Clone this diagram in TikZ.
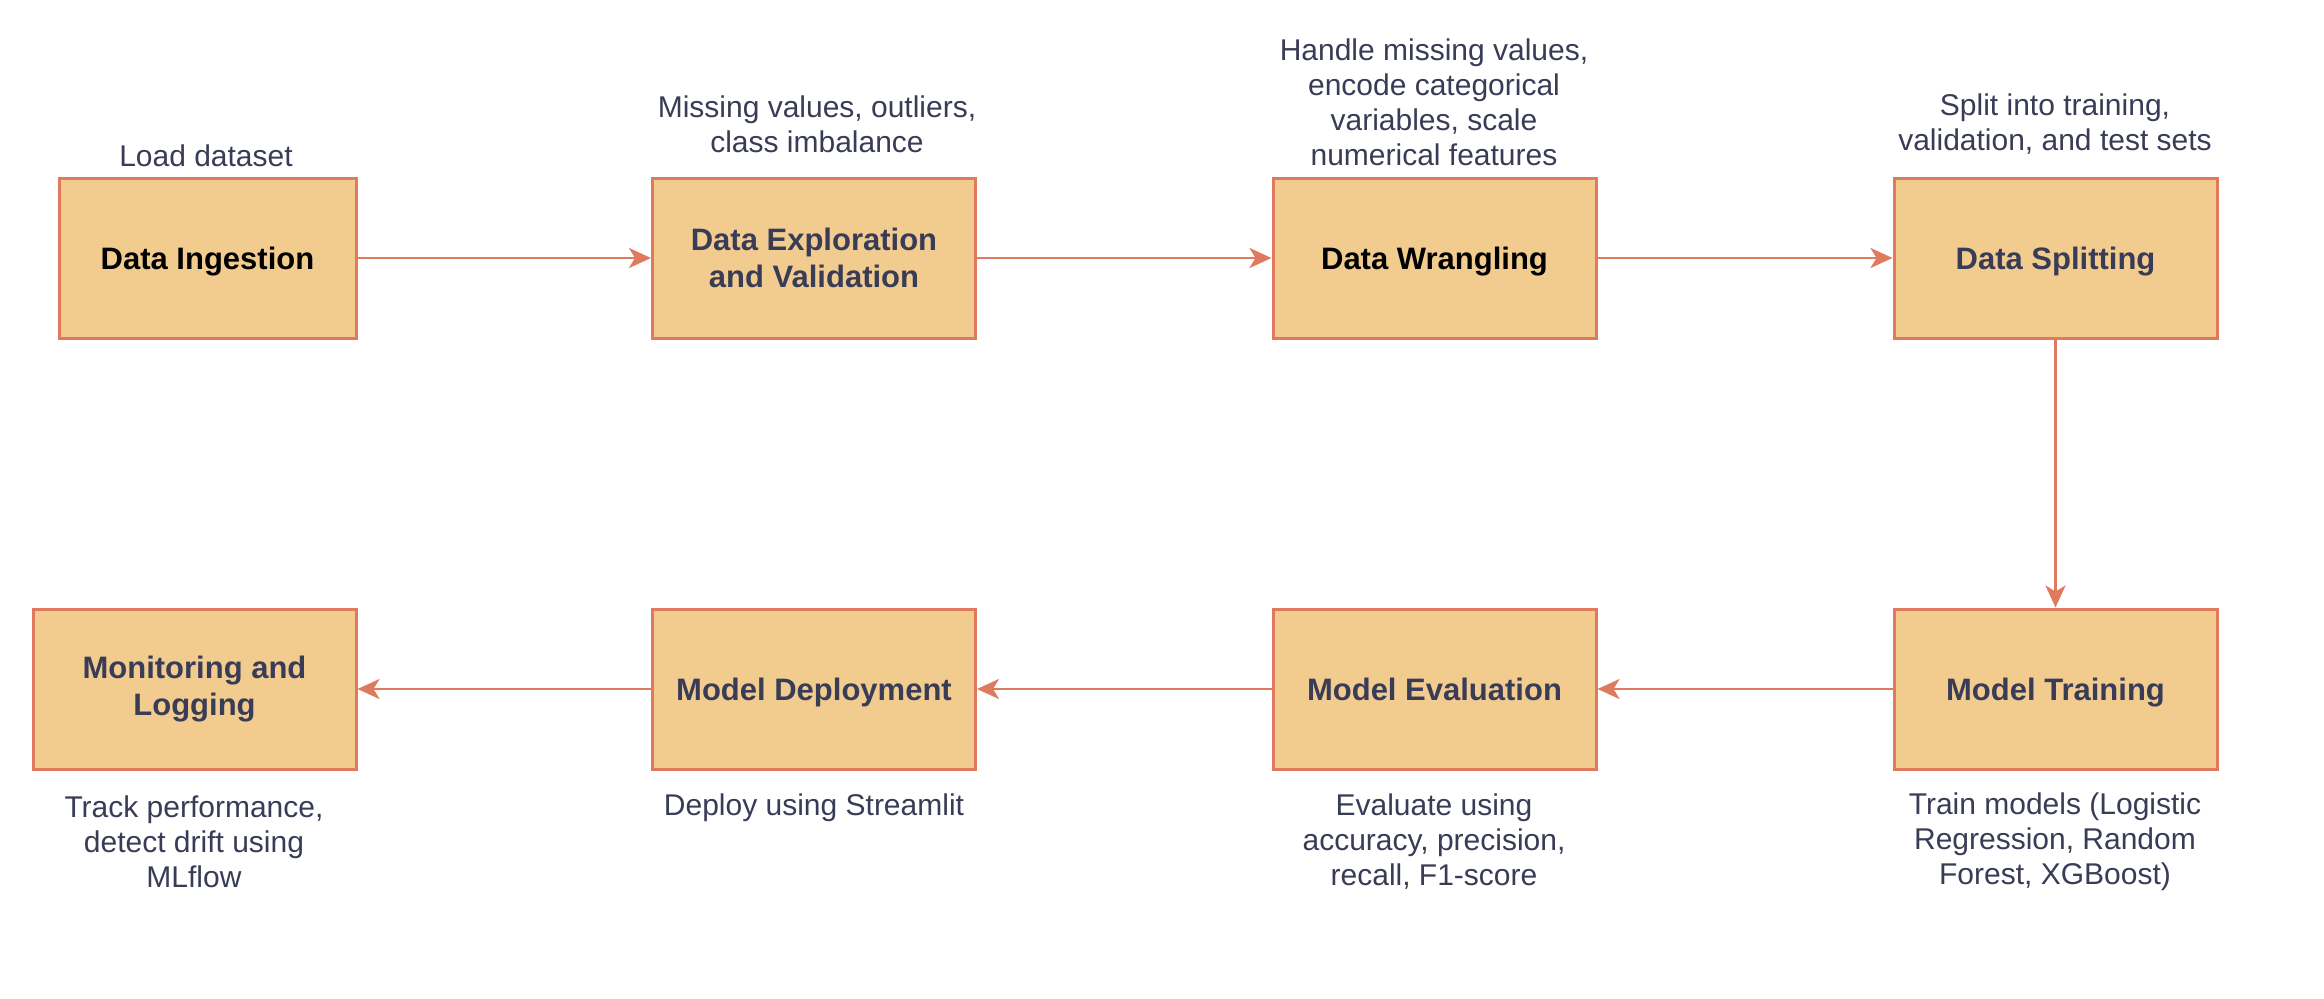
\documentclass[tikz,border=0pt]{standalone}
\usepackage{fontspec}
\setmainfont{Liberation Sans}
\usetikzlibrary{arrows.meta}
\definecolor{boxfill}{HTML}{F2CC8F}
\definecolor{boxline}{HTML}{E07A5F}
\definecolor{ink}{HTML}{393C56}
\tikzset{stage/.style = {shape=rectangle,draw=boxline,fill=boxfill,line width=1.5pt,minimum width=161.5pt,minimum height=80pt,align=center,text=ink,font=\fontsize{15.5}{18.5}\selectfont\bfseries}}
\tikzset{oneline/.style = {text height=14pt,text depth=3pt}}
\tikzset{note/.style = {align=center,text=ink,font=\fontsize{15}{17.5}\selectfont}}
\tikzset{edge/.style = {draw=boxline,line width=1.4pt,-{Stealth[length=11pt,width=10pt,inset=3pt]}}}

\begin{document}
\begin{tikzpicture}[x=0.5pt,y=-0.5pt]
          \useasboundingbox (0,0) rectangle (2324,998);

          \node[stage,oneline] [minimum width=148.5pt,text=black] (ingest) at (207.5, 258) {Data Ingestion};
          \node[stage] (explore) at (814, 258) {Data Exploration\\and Validation};
          \node[stage,oneline] [text=black] (wrangle) at (1434.5, 258) {Data Wrangling};
          \node[stage,oneline] (split) at (2055.5, 258) {Data Splitting};
          \node[stage,oneline] (train) at (2055.5, 689) {Model Training};
          \node[stage,oneline] (evaluate) at (1434.5, 689) {Model Evaluation};
          \node[stage,oneline] (deploy) at (814, 689) {Model Deployment};
          \node[stage] (monitor) at (194.5, 689) {Monitoring and\\Logging};

          \node[note] (ingestnote) at (206, 156) {Load dataset};
          \node[note] (explorenote) at (817, 124) {Missing values, outliers,\\class imbalance};
          \node[note] (wranglenote) at (1434, 102) {Handle missing values,\\encode categorical\\variables, scale\\numerical features};
          \node[note] (splitnote) at (2055, 124) {Split into training,\\validation, and test sets};
          \node[note] (trainnote) at (2055, 842) {Train models (Logistic\\Regression, Random\\Forest, XGBoost)};
          \node[note] (evaluatenote) at (1434, 842) {Evaluate using\\accuracy, precision,\\recall, F1-score};
          \node[note] (deploynote) at (814, 808) {Deploy using Streamlit};
          \node[note] (monitornote) at (194, 842) {Track performance,\\detect drift using\\MLflow};

          \draw[edge] (ingest) to (explore);
          \draw[edge] (explore) to (wrangle);
          \draw[edge] (wrangle) to (split);
          \draw[edge] (split) to (train);
          \draw[edge] (train) to (evaluate);
          \draw[edge] (evaluate) to (deploy);
          \draw[edge] (deploy) to (monitor);
        \end{tikzpicture}
\end{document}
